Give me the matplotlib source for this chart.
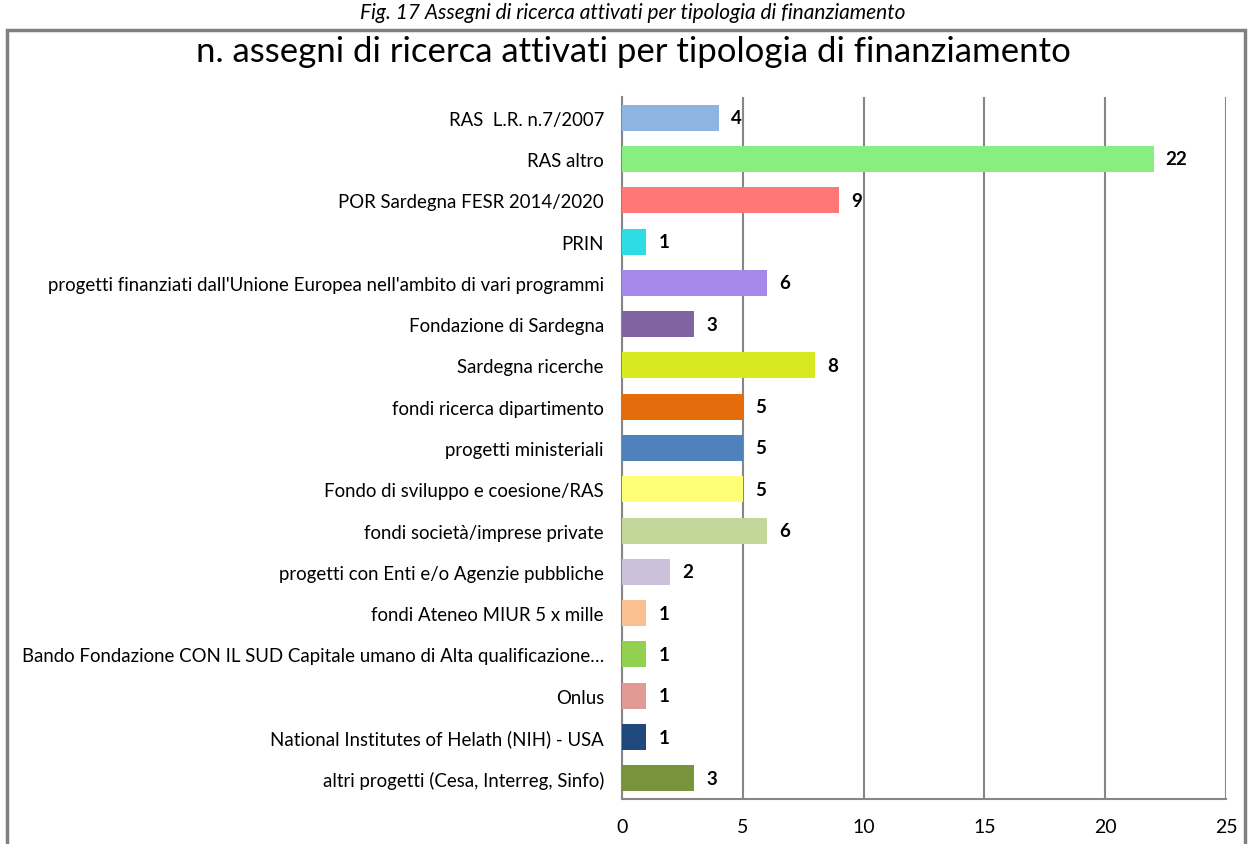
import matplotlib
matplotlib.use("Agg")
from matplotlib import pyplot as plt
from matplotlib.patches import Rectangle

plt.rcParams['font.family'] = ['Lato', 'DejaVu Sans']

categories = [
    "RAS  L.R. n.7/2007",
    "RAS altro",
    "POR Sardegna FESR 2014/2020",
    "PRIN",
    "progetti finanziati dall'Unione Europea nell'ambito di vari programmi",
    "Fondazione di Sardegna",
    "Sardegna ricerche",
    "fondi ricerca dipartimento",
    "progetti ministeriali",
    "Fondo di sviluppo e coesione/RAS",
    "fondi società/imprese private",
    "progetti con Enti e/o Agenzie pubbliche",
    "fondi Ateneo MIUR 5 x mille",
    "Bando Fondazione CON IL SUD Capitale umano di Alta qualificazione…",
    "Onlus",
    "National Institutes of Helath (NIH) - USA",
    "altri progetti (Cesa, Interreg, Sinfo)",
]
values = [4, 22, 9, 1, 6, 3, 8, 5, 5, 5, 6, 2, 1, 1, 1, 1, 3]
colors = ["#8EB4E3", "#88EE80", "#FF7777", "#2EDCE6", "#A488EA", "#8064A2",
          "#D7EA1F", "#E46C0A", "#4F81BD", "#FFFF77", "#C4D79B", "#CCC1DA",
          "#FAC090", "#92D050", "#E29A94", "#1F497D", "#77933C"]

W, H = 1248, 845
fig = plt.figure(figsize=(W / 100, H / 100), dpi=100)

# chart frame (bottom runs off the page)
fig.patches.append(Rectangle((7 / W, -0.1), (1245 - 7) / W, 1.1 - 31 / H,
                             transform=fig.transFigure, fill=False,
                             edgecolor="#808080", linewidth=2.5))

fig.text(633 / W, 1 - 13 / H, "Fig. 17 Assegni di ricerca attivati per tipologia di finanziamento",
         ha="center", va="center", fontsize=15, style="italic")
fig.text(633 / W, 1 - 52 / H, "n. assegni di ricerca attivati per tipologia di finanziamento",
         ha="center", va="center", fontsize=25)

ax = fig.add_axes([622 / W, 1 - 800 / H, (1226 - 622) / W, (800 - 98) / H])
y = list(range(len(categories)))
ax.barh(y, values, height=0.63, color=colors, zorder=3)
for yi, v in zip(y, values):
    ax.text(v + 0.5, yi, str(v), va="center", ha="left", fontsize=13.5, fontweight="bold")

ax.set_xlim(0, 25)
ax.set_ylim(len(categories) - 0.5, -0.5)
ax.set_xticks([0, 5, 10, 15, 20, 25])
ax.set_yticks(y)
ax.set_yticklabels(categories, fontsize=13.4)
ax.tick_params(axis="y", length=0, pad=13)
ax.tick_params(axis="x", length=0, pad=14, labelsize=14)
ax.grid(axis="x", color="#868686", linewidth=1.5, zorder=0)
for s in ["top", "right"]:
    ax.spines[s].set_visible(False)
for s in ["left", "bottom"]:
    ax.spines[s].set_color("#868686")
    ax.spines[s].set_linewidth(1.5)

fig.savefig("out.png", dpi=100)
